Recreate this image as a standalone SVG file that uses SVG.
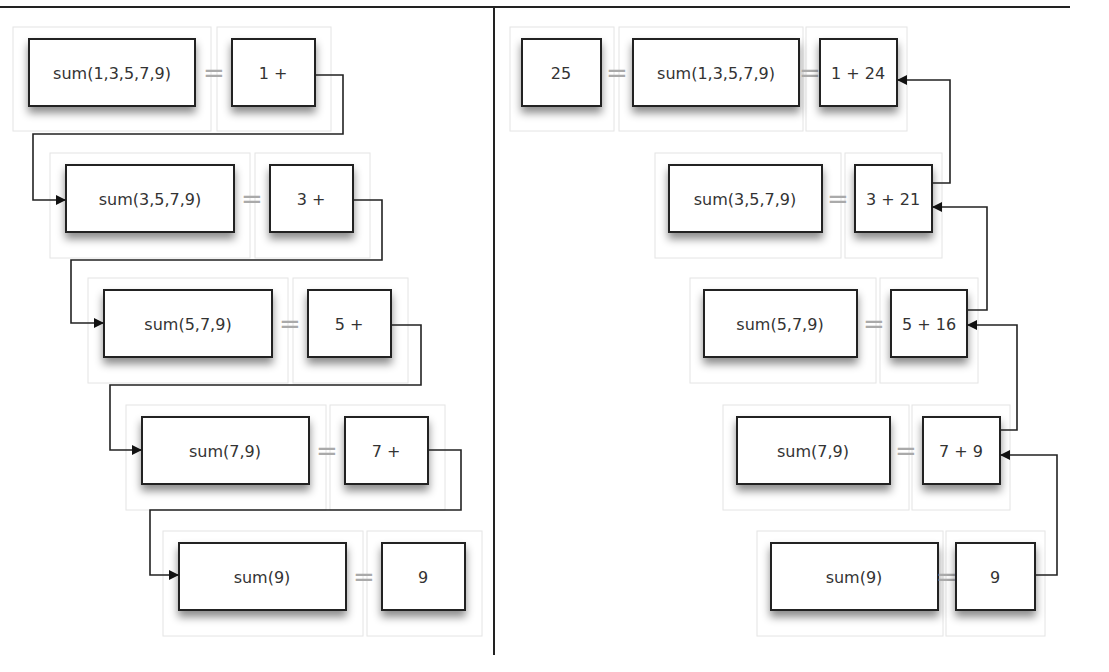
<svg xmlns="http://www.w3.org/2000/svg" width="1109" height="672" viewBox="0 0 1109 672">
<defs>
<filter id="sh" x="-20%" y="-20%" width="140%" height="160%"><feDropShadow dx="0" dy="6" stdDeviation="4" flood-color="#000" flood-opacity="0.45"/></filter>
<marker id="ar" viewBox="0 0 10 10" refX="10" refY="5" markerWidth="10" markerHeight="10" markerUnits="userSpaceOnUse" orient="auto"><path d="M0,0L10,5L0,10z" fill="#111"/></marker>
</defs>
<style>
.b{fill:#fff;stroke:#222;stroke-width:2;filter:url(#sh)}
.c{fill:none;stroke:#e4e4e4;stroke-width:1}
.t{font-family:"DejaVu Sans",sans-serif;font-size:16px;fill:#333;text-anchor:middle;dominant-baseline:central}
.e{font-family:"DejaVu Sans",sans-serif;font-size:26px;fill:#aaa;text-anchor:middle;dominant-baseline:central}
.l{fill:none;stroke:#222;stroke-width:1.6}
</style>
<rect width="1109" height="672" fill="#fff"/>
<path d="M0,7H1070M494,7V655" stroke="#222" stroke-width="2" fill="none"/>
<g id="L1"><rect class="c" x="13" y="27" width="198" height="104"/><rect class="c" x="217" y="27" width="114" height="104"/><rect class="b" x="29" y="39" width="166" height="67"/><text class="t" x="112" y="73">sum(1,3,5,7,9)</text><text class="e" x="214" y="73">=</text><rect class="b" x="232" y="39" width="83" height="67"/><text class="t" x="273" y="73">1 +</text></g>
<g id="L2"><rect class="c" x="50" y="153" width="200" height="105"/><rect class="c" x="255" y="153" width="115" height="105"/><rect class="b" x="66" y="165" width="168" height="67"/><text class="t" x="150" y="199">sum(3,5,7,9)</text><text class="e" x="252" y="199">=</text><rect class="b" x="270" y="165" width="83" height="67"/><text class="t" x="311" y="199">3 +</text></g>
<g id="L3"><rect class="c" x="88" y="278" width="200" height="105"/><rect class="c" x="293" y="278" width="115" height="105"/><rect class="b" x="104" y="290" width="168" height="67"/><text class="t" x="188" y="324">sum(5,7,9)</text><text class="e" x="290" y="324">=</text><rect class="b" x="308" y="290" width="83" height="67"/><text class="t" x="349" y="324">5 +</text></g>
<g id="L4"><rect class="c" x="126" y="405" width="200" height="105"/><rect class="c" x="330" y="405" width="115" height="105"/><rect class="b" x="142" y="417" width="167" height="67"/><text class="t" x="225" y="451">sum(7,9)</text><text class="e" x="327" y="451">=</text><rect class="b" x="345" y="417" width="83" height="67"/><text class="t" x="386" y="451">7 +</text></g>
<g id="L5"><rect class="c" x="163" y="531" width="200" height="105"/><rect class="c" x="367" y="531" width="115" height="105"/><rect class="b" x="179" y="543" width="167" height="67"/><text class="t" x="262" y="577">sum(9)</text><text class="e" x="364" y="577">=</text><rect class="b" x="382" y="543" width="83" height="67"/><text class="t" x="423" y="577">9</text></g>
<g id="R1"><rect class="c" x="510" y="27" width="104" height="104"/><rect class="c" x="619" y="27" width="184" height="104"/><rect class="c" x="806" y="27" width="101" height="104"/><rect class="b" x="522" y="39" width="79" height="67"/><text class="t" x="561" y="73">25</text><text class="e" x="617" y="73">=</text><rect class="b" x="633" y="39" width="166" height="67"/><text class="t" x="716" y="73">sum(1,3,5,7,9)</text><text class="e" x="810" y="73">=</text><rect class="b" x="820" y="39" width="77" height="67"/><text class="t" x="858" y="73">1 + 24</text></g>
<g id="R2"><rect class="c" x="655" y="153" width="186" height="105"/><rect class="c" x="845" y="153" width="97" height="105"/><rect class="b" x="669" y="165" width="153" height="67"/><text class="t" x="745" y="199">sum(3,5,7,9)</text><text class="e" x="838" y="199">=</text><rect class="b" x="855" y="165" width="77" height="67"/><text class="t" x="893" y="199">3 + 21</text></g>
<g id="R3"><rect class="c" x="690" y="278" width="186" height="105"/><rect class="c" x="880" y="278" width="98" height="105"/><rect class="b" x="704" y="290" width="153" height="67"/><text class="t" x="780" y="324">sum(5,7,9)</text><text class="e" x="874" y="324">=</text><rect class="b" x="891" y="290" width="76" height="67"/><text class="t" x="929" y="324">5 + 16</text></g>
<g id="R4"><rect class="c" x="723" y="405" width="186" height="105"/><rect class="c" x="912" y="405" width="98" height="105"/><rect class="b" x="737" y="417" width="153" height="67"/><text class="t" x="813" y="451">sum(7,9)</text><text class="e" x="906" y="451">=</text><rect class="b" x="923" y="417" width="77" height="67"/><text class="t" x="961" y="451">7 + 9</text></g>
<g id="R5"><rect class="c" x="757" y="531" width="186" height="105"/><rect class="c" x="946" y="531" width="99" height="105"/><rect class="b" x="771" y="543" width="167" height="67"/><text class="t" x="854" y="577">sum(9)</text><text class="e" x="947" y="577">=</text><rect class="b" x="956" y="543" width="79" height="67"/><text class="t" x="995" y="577">9</text></g>
<g id="connectors">
<path class="l" marker-end="url(#ar)" d="M315,75H343V134H33V200H66"/>
<path class="l" marker-end="url(#ar)" d="M353,200H382V260H71V323H104"/>
<path class="l" marker-end="url(#ar)" d="M391,325H421V385H110V450H142"/>
<path class="l" marker-end="url(#ar)" d="M428,450H461V510H150V575H179"/>
<path class="l" marker-end="url(#ar)" d="M932,183H950V80H897"/>
<path class="l" marker-end="url(#ar)" d="M967,310H987V207H932"/>
<path class="l" marker-end="url(#ar)" d="M1000,430H1017V325H967"/>
<path class="l" marker-end="url(#ar)" d="M1035,575H1057V455H1000"/>
</g>
</svg>
